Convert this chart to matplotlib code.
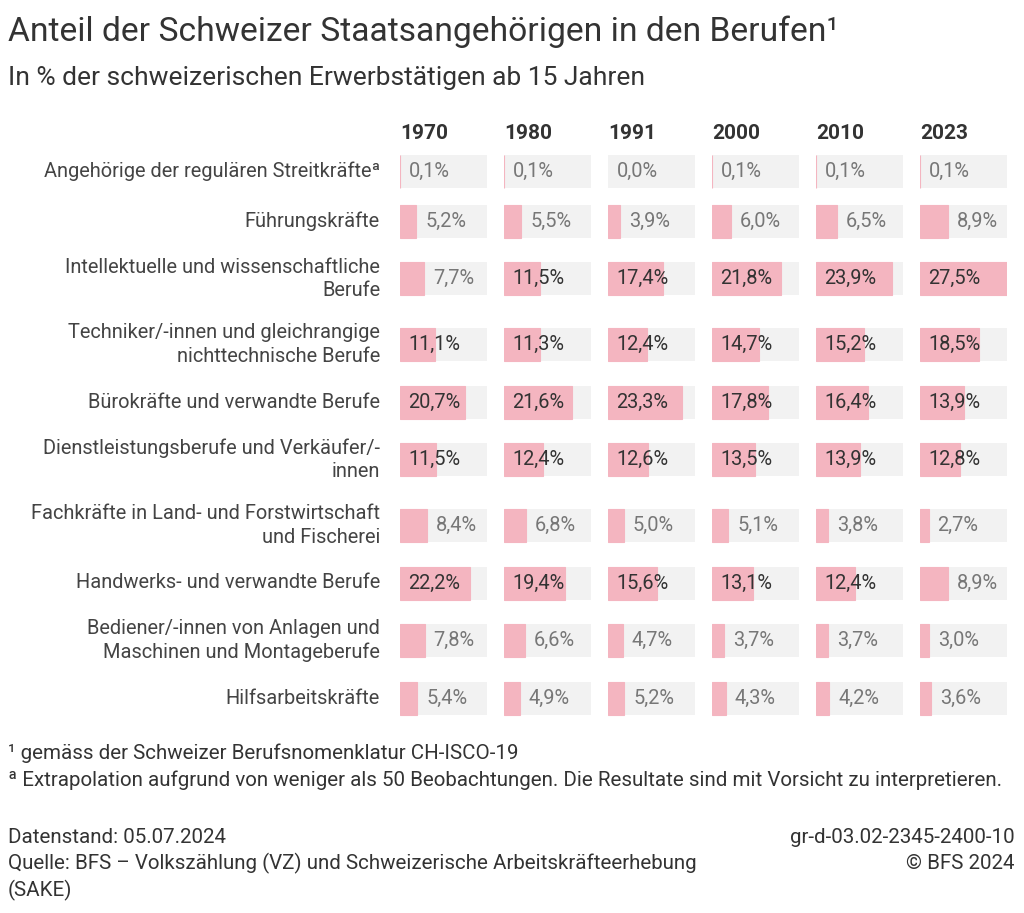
import numpy as np
import matplotlib
matplotlib.use("Agg")
import matplotlib.pyplot as plt

plt.rcParams['font.family'] = ['Roboto', 'DejaVu Sans']

# --- data ---
years = ['1970', '1980', '1991', '2000', '2010', '2023']
berufe = [
    'Angehörige der regulären Streitkräfteª',
    'Führungskräfte',
    'Intellektuelle und wissenschaftliche\nBerufe',
    'Techniker/-innen und gleichrangige\nnichttechnische Berufe',
    'Bürokräfte und verwandte Berufe',
    'Dienstleistungsberufe und Verkäufer/-\ninnen',
    'Fachkräfte in Land- und Forstwirtschaft\nund Fischerei',
    'Handwerks- und verwandte Berufe',
    'Bediener/-innen von Anlagen und\nMaschinen und Montageberufe',
    'Hilfsarbeitskräfte',
]
v1970 = [0.1, 5.2, 7.7, 11.1, 20.7, 11.5, 8.4, 22.2, 7.8, 5.4]
v1980 = [0.1, 5.5, 11.5, 11.3, 21.6, 12.4, 6.8, 19.4, 6.6, 4.9]
v1991 = [0.0, 3.9, 17.4, 12.4, 23.3, 12.6, 5.0, 15.6, 4.7, 5.2]
v2000 = [0.1, 6.0, 21.8, 14.7, 17.8, 13.5, 5.1, 13.1, 3.7, 4.3]
v2010 = [0.1, 6.5, 23.9, 15.2, 16.4, 13.9, 3.8, 12.4, 3.7, 4.2]
v2023 = [0.1, 8.9, 27.5, 18.5, 13.9, 12.8, 2.7, 8.9, 3.0, 3.6]
werte = [v1970, v1980, v1991, v2000, v2010, v2023]

pink = '#f4b5c0'
bg = '#f2f2f2'
dark = '#333333'
grey = '#777777'

W, H = 1024, 913
fig = plt.figure(figsize=(W / 100, H / 100), dpi=100)
fig.patch.set_facecolor('white')

# row layout: two-line labels get taller rows
row_h = np.array([65.5 if '\n' in b else 50.0 for b in berufe])
edges = np.concatenate([[0], np.cumsum(row_h)])
centers = (edges[:-1] + edges[1:]) / 2
total = edges[-1]
top_px = 146
xmax = max(max(v) for v in werte)

for i, (yr, vals) in enumerate(zip(years, werte)):
    left = 400 + i * 104
    ax = fig.add_axes([left / W, 1 - (top_px + total) / H, 87 / W, total / H])
    ax.set_xlim(0, xmax)
    ax.set_ylim(total, 0)
    ax.axis('off')
    ax.barh(centers, [xmax] * len(vals), height=33, color=bg, left=0)
    for y, v in zip(centers, vals):
        if v > 0:
            ax.barh(y, v, height=33, color=pink, edgecolor=pink, linewidth=0.8)
    for y, v in zip(centers, vals):
        txt = f'{v:.1f}'.replace('.', ',') + '%'
        if v >= 10:
            ax.annotate(txt, (0, y), xytext=(8, 0), textcoords='offset pixels',
                        va='center', ha='left', fontsize=14.4, color=dark)
        else:
            ax.annotate(txt, (v, y), xytext=(9, 0), textcoords='offset pixels',
                        va='center', ha='left', fontsize=14.4, color=grey)
    ax.text(0, -3, yr, ha='left', va='bottom', fontsize=15,
            fontweight='bold', color=dark)

# row labels
for b, y in zip(berufe, centers):
    fig.text(380 / W, 1 - (top_px + y) / H, b, ha='right', va='center',
             fontsize=14.4, color='#444444', linespacing=1.3)

fig.text(8 / W, 1 - 32 / H, 'Anteil der Schweizer Staatsangehörigen in den Berufen¹',
         ha='left', va='center', fontsize=24.2, color=dark)
fig.text(8 / W, 1 - 78 / H, 'In % der schweizerischen Erwerbstätigen ab 15 Jahren',
         ha='left', va='center', fontsize=19, color=dark)

fs = 14.8
fig.text(8 / W, 1 - 753 / H, '¹ gemäss der Schweizer Berufsnomenklatur CH-ISCO-19',
         ha='left', va='center', fontsize=fs, color=dark)
fig.text(8 / W, 1 - 780 / H,
         'ª Extrapolation aufgrund von weniger als 50 Beobachtungen. Die Resultate sind mit Vorsicht zu interpretieren.',
         ha='left', va='center', fontsize=fs, color=dark)
fig.text(8 / W, 1 - 837 / H, 'Datenstand: 05.07.2024',
         ha='left', va='center', fontsize=fs, color=dark)
fig.text(8 / W, 1 - 863 / H,
         'Quelle: BFS – Volkszählung (VZ) und Schweizerische Arbeitskräfteerhebung',
         ha='left', va='center', fontsize=fs, color=dark)
fig.text(8 / W, 1 - 890 / H, '(SAKE)', ha='left', va='center', fontsize=fs, color=dark)
fig.text(1015 / W, 1 - 837 / H, 'gr-d-03.02-2345-2400-10',
         ha='right', va='center', fontsize=fs, color=dark)
fig.text(1015 / W, 1 - 863 / H, '© BFS 2024',
         ha='right', va='center', fontsize=fs, color=dark)

fig.savefig('out.png', dpi=100)
